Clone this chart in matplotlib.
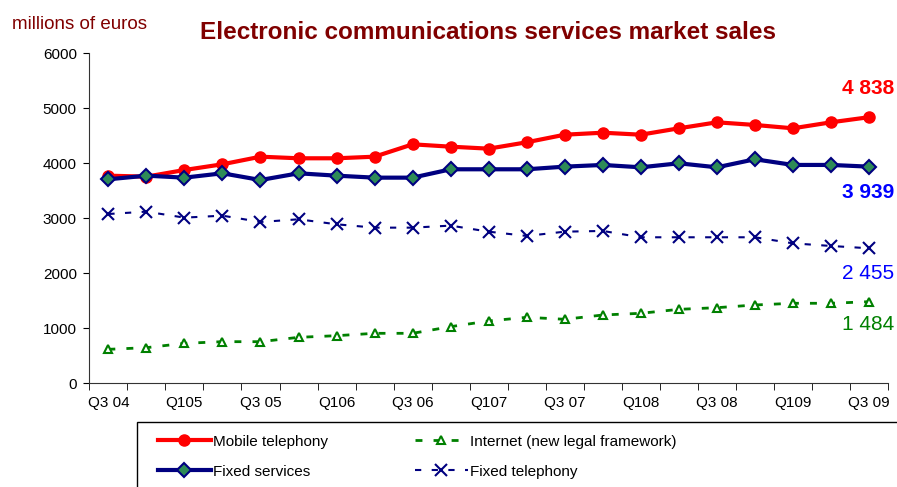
import matplotlib
matplotlib.use('Agg')
import matplotlib.pyplot as plt
from matplotlib.patches import Rectangle

plt.rcParams['font.family'] = ['Liberation Sans', 'DejaVu Sans']

# quarterly sales, millions of euros (Q3 04 .. Q3 09)
quarters = ['Q3 04', 'Q4 04', 'Q1 05', 'Q2 05', 'Q3 05', 'Q4 05', 'Q1 06', 'Q2 06',
            'Q3 06', 'Q4 06', 'Q1 07', 'Q2 07', 'Q3 07', 'Q4 07', 'Q1 08', 'Q2 08',
            'Q3 08', 'Q4 08', 'Q1 09', 'Q2 09', 'Q3 09']
tick_labels = ['Q3 04', 'Q105', 'Q3 05', 'Q106', 'Q3 06', 'Q107', 'Q3 07',
               'Q108', 'Q3 08', 'Q109', 'Q3 09']

mobile = [3775, 3757, 3878, 3982, 4120, 4091, 4091, 4120, 4345, 4302, 4266,
          4382, 4520, 4556, 4520, 4636, 4745, 4697, 4636, 4745, 4838]
fixed_services = [3709, 3775, 3739, 3818, 3696, 3818, 3775, 3739, 3739, 3891, 3891,
                  3891, 3939, 3970, 3927, 4000, 3927, 4073, 3970, 3970, 3939]
internet = [618, 648, 727, 757, 757, 836, 866, 909, 909, 1030, 1133,
            1200, 1164, 1242, 1273, 1345, 1375, 1424, 1455, 1455, 1484]
fixed_tel = [3078, 3121, 3012, 3048, 2933, 2982, 2891, 2830, 2830, 2867, 2757,
             2679, 2757, 2770, 2655, 2655, 2655, 2655, 2545, 2497, 2455]

end_labels = ['4 838', '3 939', '2 455', '1 484']

x = list(range(len(quarters)))

fig = plt.figure(figsize=(8.97, 4.87), dpi=100)
ax = fig.add_axes([0.0996, 0.2129, 0.8904, 0.6777])

l_mob, = ax.plot(x, mobile, color='#ff0000', lw=3, marker='o', ms=8,
                 mfc='#ff0000', mec='#ff0000', label='Mobile telephony', zorder=3)
l_fix, = ax.plot(x, fixed_services, color='#000080', lw=3, marker='D', ms=7,
                 mfc='#2e8b57', mec='#000080', mew=1.5, label='Fixed services', zorder=4)
l_int, = ax.plot(x, internet, color='#008000', lw=2, ls=(0, (2.5, 4)), marker='^', ms=6,
                 mfc='white', mec='#008000', mew=1.5,
                 label='Internet (new legal framework)', zorder=3)
l_tel, = ax.plot(x, fixed_tel, color='#000080', lw=1.5, ls=(0, (3, 5)), marker='x', ms=9,
                 mec='#000080', mew=1.5, label='Fixed telephony', zorder=3)

ax.set_xlim(-0.5, len(quarters) - 0.5)
ax.set_ylim(0, 6000)
ax.set_yticks(range(0, 6001, 1000))
ax.set_xticks(x[::2])
ax.set_xticklabels(tick_labels)
ax.set_xticks([i + 0.5 for i in range(-1, len(quarters))], minor=True)
ax.tick_params(axis='x', which='major', length=0, pad=9, labelsize=11)
ax.tick_params(axis='x', which='minor', length=5, direction='out')
ax.tick_params(axis='y', length=4, pad=5, labelsize=11)
for s in ['top', 'right']:
    ax.spines[s].set_visible(False)
ax.spines['left'].set_color('#333333')
ax.spines['bottom'].set_color('#333333')

# end-of-series values
ends = [(mobile[-1], 29, '#ff0000', 'bold'),
        (fixed_services[-1], -26, '#0000ff', 'bold'),
        (fixed_tel[-1], -25, '#0000ff', 'normal'),
        (internet[-1], -23, '#008000', 'normal')]
for lab, (v, dy, c, w) in zip(end_labels, ends):
    ax.annotate(lab, xy=(x[-1], v), xytext=(25, dy), textcoords='offset pixels',
                ha='right', va='center', fontsize=15, color=c, fontweight=w,
                annotation_clip=False)

fig.text(0.544, 0.934, 'Electronic communications services market sales',
         ha='center', va='center', fontsize=17.5, fontweight='bold', color='#800000')
fig.text(0.013, 0.949, 'millions of euros', ha='left', va='center',
         fontsize=13.5, color='#800000')

fig.patches.append(Rectangle((137 / 897, -0.1), 1, (487 - 421.7) / 487 + 0.1,
                             transform=fig.transFigure, fill=False,
                             edgecolor='black', lw=1))
fig.legend(handles=[l_mob, l_fix, l_int, l_tel], loc='upper left', ncol=2,
           bbox_to_anchor=(150 / 897, 1 - 427 / 487), frameon=False,
           fontsize=11, handlelength=3.5, handletextpad=0.1, labelspacing=1.05,
           columnspacing=5.7, borderpad=0)

fig.savefig('out.png', dpi=100)
